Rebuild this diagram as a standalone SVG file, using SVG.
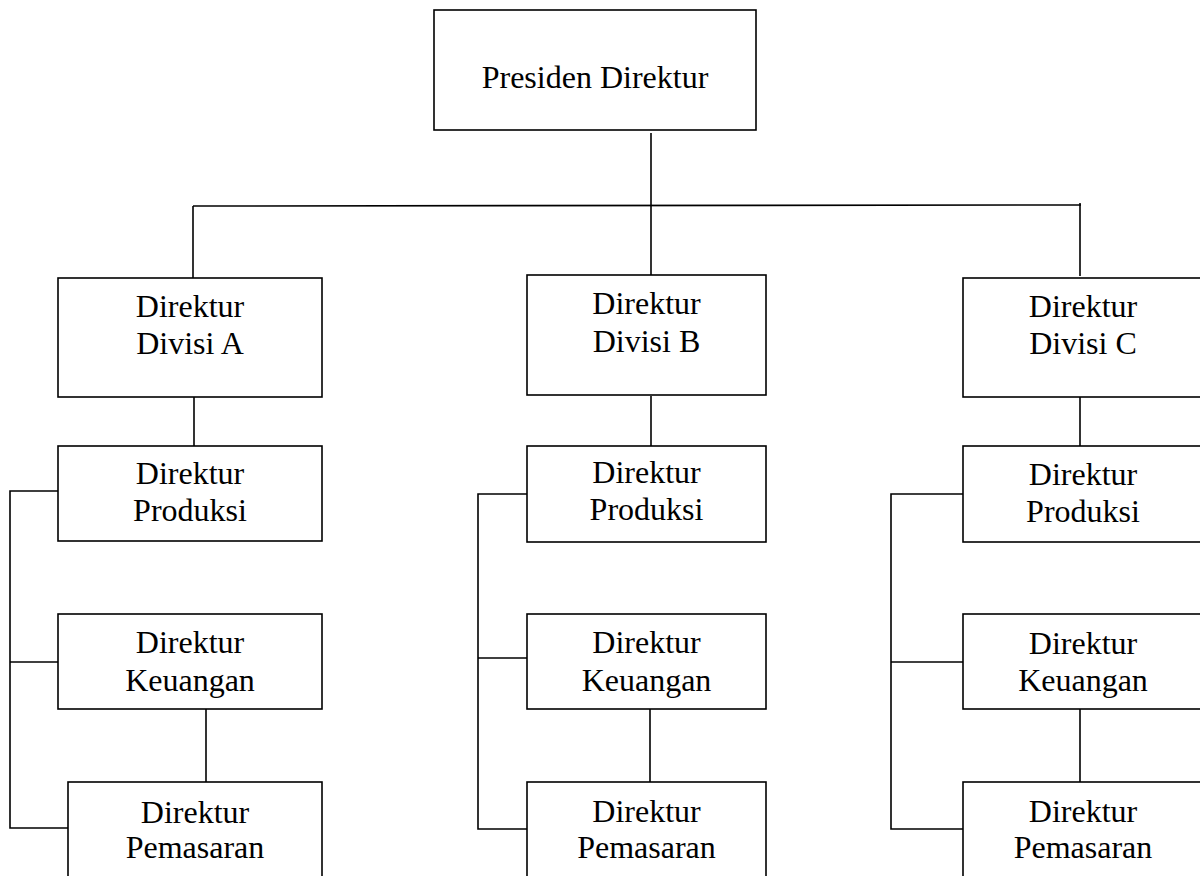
<svg xmlns="http://www.w3.org/2000/svg" width="1200" height="876" viewBox="0 0 1200 876">
<style>
.box{fill:#fff;stroke:#000;stroke-width:1.6}
.lbl{font-family:"Liberation Serif","Times New Roman",serif;font-size:32px;fill:#000;text-anchor:middle}
.con{fill:none;stroke:#000;stroke-width:1.6}
</style>
<rect width="1200" height="876" fill="#fff"/>
<g id="connectors">
<line class="con" x1="651" y1="133" x2="651" y2="277"/>
<line class="con" x1="193" y1="206" x2="1081" y2="205"/>
<line class="con" x1="193" y1="206" x2="193" y2="278"/>
<line class="con" x1="1080" y1="203" x2="1080" y2="276"/>
<line class="con" x1="194" y1="397" x2="194" y2="446"/>
<line class="con" x1="651" y1="396" x2="651" y2="446"/>
<line class="con" x1="1080" y1="397" x2="1080" y2="446"/>
<polyline class="con" points="58,491 10,491 10,828 68,828"/>
<line class="con" x1="10" y1="662" x2="58" y2="662"/>
<line class="con" x1="206" y1="709" x2="206" y2="782"/>
<polyline class="con" points="527,494 478,494 478,829 527,829"/>
<line class="con" x1="478" y1="658" x2="527" y2="658"/>
<line class="con" x1="650" y1="709" x2="650" y2="782"/>
<polyline class="con" points="963,494 891,494 891,829 963,829"/>
<line class="con" x1="891" y1="662" x2="963" y2="662"/>
<line class="con" x1="1080" y1="709" x2="1080" y2="782"/>
</g>
<g id="presiden"><rect class="box" x="434" y="10" width="322" height="120"/><text class="lbl" x="595" y="88">Presiden Direktur</text></g>
<g id="divisiA"><rect class="box" x="58" y="278" width="264" height="119"/><text class="lbl" x="190" y="317">Direktur</text><text class="lbl" x="190" y="354">Divisi A</text></g>
<g id="divisiB"><rect class="box" x="527" y="275" width="239" height="120"/><text class="lbl" x="646.5" y="314">Direktur</text><text class="lbl" x="646.5" y="352">Divisi B</text></g>
<g id="divisiC"><rect class="box" x="963" y="278" width="240" height="119"/><text class="lbl" x="1083" y="317">Direktur</text><text class="lbl" x="1083" y="354">Divisi C</text></g>
<g id="produksiA"><rect class="box" x="58" y="446" width="264" height="95"/><text class="lbl" x="190" y="484">Direktur</text><text class="lbl" x="190" y="521">Produksi</text></g>
<g id="produksiB"><rect class="box" x="527" y="446" width="239" height="96"/><text class="lbl" x="646.5" y="483">Direktur</text><text class="lbl" x="646.5" y="520">Produksi</text></g>
<g id="produksiC"><rect class="box" x="963" y="446" width="240" height="96"/><text class="lbl" x="1083" y="485">Direktur</text><text class="lbl" x="1083" y="522">Produksi</text></g>
<g id="keuanganA"><rect class="box" x="58" y="614" width="264" height="95"/><text class="lbl" x="190" y="653">Direktur</text><text class="lbl" x="190" y="691">Keuangan</text></g>
<g id="keuanganB"><rect class="box" x="527" y="614" width="239" height="95"/><text class="lbl" x="646.5" y="653">Direktur</text><text class="lbl" x="646.5" y="691">Keuangan</text></g>
<g id="keuanganC"><rect class="box" x="963" y="614" width="240" height="95"/><text class="lbl" x="1083" y="654">Direktur</text><text class="lbl" x="1083" y="691">Keuangan</text></g>
<g id="pemasaranA"><rect class="box" x="68" y="782" width="254" height="110"/><text class="lbl" x="195" y="823">Direktur</text><text class="lbl" x="195" y="858">Pemasaran</text></g>
<g id="pemasaranB"><rect class="box" x="527" y="782" width="239" height="110"/><text class="lbl" x="646.5" y="822">Direktur</text><text class="lbl" x="646.5" y="858">Pemasaran</text></g>
<g id="pemasaranC"><rect class="box" x="963" y="782" width="240" height="110"/><text class="lbl" x="1083" y="822">Direktur</text><text class="lbl" x="1083" y="858">Pemasaran</text></g>
</svg>
